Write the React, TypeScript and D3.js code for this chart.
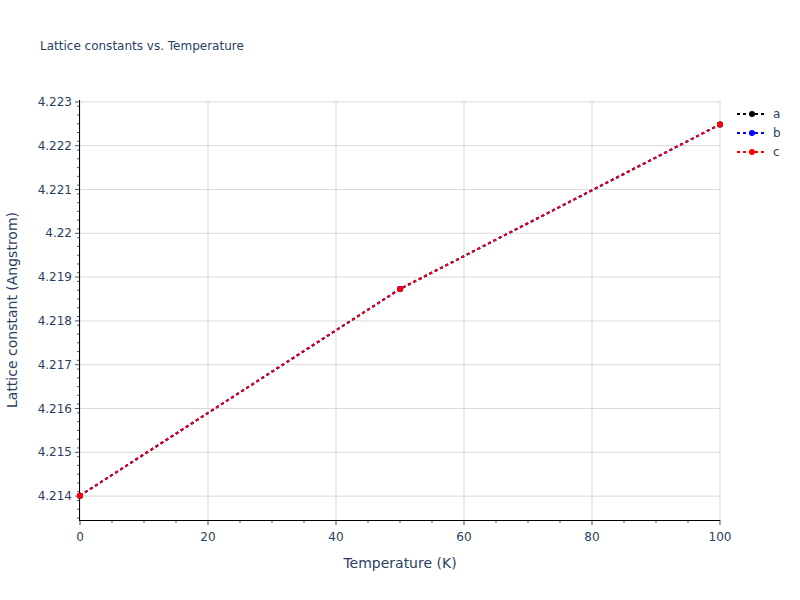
import { useEffect, useRef } from 'react'
import * as d3 from 'd3'

// temperatures (K) and lattice constants (Angstrom) per axis
const TEMPS = [0, 50, 100]
const A_VALS = [4.21401, 4.218728, 4.222484]
const B_VALS = [4.21401, 4.218728, 4.222484]
const C_VALS = [4.21401, 4.218728, 4.222484]
const SERIES = [
  { name: 'a', color: '#000000', values: A_VALS },
  { name: 'b', color: '#0000ff', values: B_VALS },
  { name: 'c', color: '#ff0000', values: C_VALS },
]
const X_TICKS = [0, 20, 40, 60, 80, 100]
const Y_TICKS = [4.214, 4.215, 4.216, 4.217, 4.218, 4.219, 4.22, 4.221, 4.222, 4.223]

const W = 800
const H = 600
const M = { top: 100, right: 80, bottom: 80, left: 80 }
const FONT = '"DejaVu Sans", verdana, arial, sans-serif'
const INK = '#2a3f5f'

export default function App() {
  const ref = useRef<SVGSVGElement>(null)

  useEffect(() => {
    document.body.style.margin = '0'
    if (!ref.current) return
    const svg = d3.select(ref.current)
    svg.selectAll('*').remove()

    const x = d3.scaleLinear().domain([0, 100]).range([M.left, W - M.right])
    const y = d3.scaleLinear().domain([4.213454, 4.223043]).range([H - M.bottom, M.top])
    const x0 = M.left, x1 = W - M.right, y0 = H - M.bottom, y1 = M.top

    svg.append('rect').attr('width', W).attr('height', H).attr('fill', '#fff')

    // grid
    const grid = svg.append('g').attr('stroke', '#dadada').attr('stroke-width', 1)
    X_TICKS.forEach((t) => grid.append('line').attr('x1', x(t)).attr('x2', x(t)).attr('y1', y0).attr('y2', y1))
    Y_TICKS.forEach((t) => grid.append('line').attr('x1', x0).attr('x2', x1).attr('y1', y(t)).attr('y2', y(t)))

    // minor ticks
    const minor = svg.append('g').attr('stroke', '#555').attr('stroke-width', 1)
    d3.range(0, 101, 5).forEach((t) => {
      if (t % 20 === 0) return
      minor.append('line').attr('x1', x(t)).attr('x2', x(t)).attr('y1', y0).attr('y2', y0 + 3)
    })
    d3.range(42135, 42231, 2).map((v) => v / 10000).forEach((t) => {
      if (Math.abs(Math.round(t * 1000) - t * 1000) < 1e-6) return
      if (y(t) < y1 || y(t) > y0) return
      minor.append('line').attr('x1', x0 - 3).attr('x2', x0).attr('y1', y(t)).attr('y2', y(t))
    })

    // major ticks
    const major = svg.append('g').attr('stroke', '#555').attr('stroke-width', 1)
    X_TICKS.forEach((t) => major.append('line').attr('x1', x(t)).attr('x2', x(t)).attr('y1', y0).attr('y2', y0 + 5))
    Y_TICKS.forEach((t) => major.append('line').attr('x1', x0 - 5).attr('x2', x0).attr('y1', y(t)).attr('y2', y(t)))

    // axis lines
    const ax = svg.append('g').attr('stroke', '#000').attr('stroke-width', 1)
    ax.append('line').attr('x1', x0 - 1).attr('x2', x1).attr('y1', y0 + 0.5).attr('y2', y0 + 0.5)
    ax.append('line').attr('x1', x0 - 0.5).attr('x2', x0 - 0.5).attr('y1', y0 + 1).attr('y2', y1)

    const txt = svg.append('g').attr('font-family', FONT).attr('fill', INK)
    X_TICKS.forEach((t) => txt.append('text').attr('x', x(t)).attr('y', y0 + 21)
      .attr('text-anchor', 'middle').attr('font-size', 12).text(d3.format('d')(t)))
    Y_TICKS.forEach((t) => txt.append('text').attr('x', x0 - 8).attr('y', y(t)).attr('dy', '0.35em')
      .attr('text-anchor', 'end').attr('font-size', 12).text(d3.format('.4~f')(t)))

    txt.append('text').attr('x', (x0 + x1) / 2).attr('y', 568).attr('text-anchor', 'middle')
      .attr('font-size', 14).text('Temperature (K)')
    txt.append('text').attr('transform', `translate(17,${(y0 + y1) / 2}) rotate(-90)`)
      .attr('text-anchor', 'middle').attr('font-size', 14).text('Lattice constant (Angstrom)')
    txt.append('text').attr('x', 40).attr('y', 50).attr('font-size', 12).text('Lattice constants vs. Temperature')

    // series
    const line = d3.line<number>().x((_d, i) => x(TEMPS[i])).y((d) => y(d))
    const plot = svg.append('g')
    SERIES.forEach((s) => {
      plot.append('path').attr('d', line(s.values)).attr('fill', 'none').attr('stroke', s.color)
        .attr('stroke-width', 2).attr('stroke-dasharray', '3,3')
      s.values.forEach((v, i) => plot.append('circle').attr('cx', x(TEMPS[i])).attr('cy', y(v))
        .attr('r', 3).attr('fill', s.color))
    })

    // legend
    const lg = svg.append('g')
    SERIES.forEach((s, i) => {
      const ly = 114 + i * 19
      lg.append('line').attr('x1', 737).attr('x2', 767).attr('y1', ly).attr('y2', ly)
        .attr('stroke', s.color).attr('stroke-width', 2).attr('stroke-dasharray', '3,3')
      lg.append('circle').attr('cx', 752).attr('cy', ly).attr('r', 3).attr('fill', s.color)
      lg.append('text').attr('x', 773).attr('y', ly).attr('dy', '0.35em').attr('font-family', FONT)
        .attr('font-size', 12).attr('fill', INK).text(s.name)
    })
  }, [])

  return <svg ref={ref} width={W} height={H} style={{ display: 'block' }} />
}
